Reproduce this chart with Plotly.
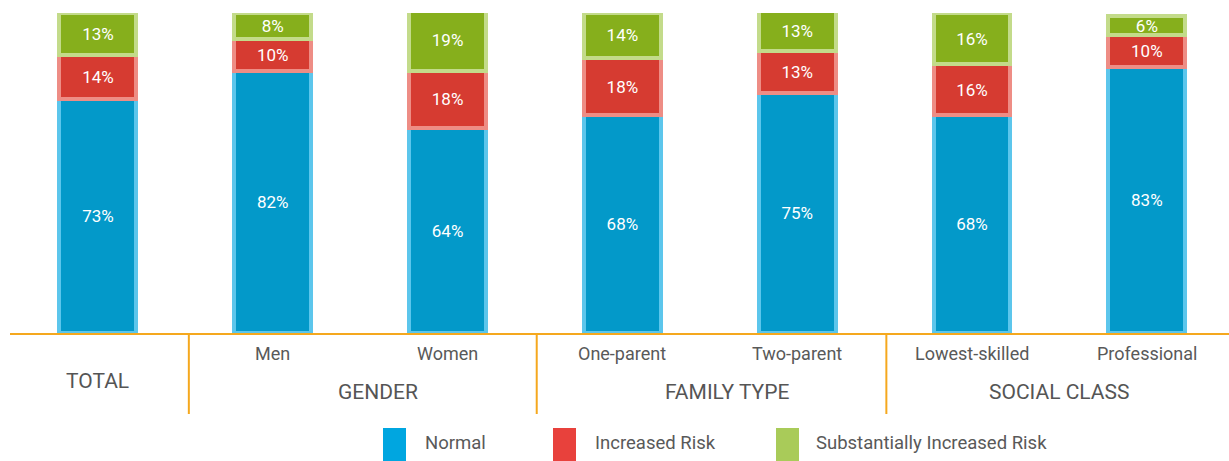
import plotly.graph_objects as go

categories = ["Total", "Men", "Women", "One-parent", "Two-parent", "Lowest-skilled", "Professional"]
tick_labels = ["", "Men", "Women", "One-parent", "Two-parent", "Lowest-skilled", "Professional"]
normal = [73, 82, 64, 68, 75, 68, 83]
increased = [14, 10, 18, 18, 13, 16, 10]
substantial = [13, 8, 19, 14, 13, 16, 6]
series_names = ["Normal", "Increased Risk", "Substantially Increased Risk"]
groups = ["TOTAL", "GENDER", "FAMILY TYPE", "SOCIAL CLASS"]
group_pos = [0, 1.6, 3.6, 5.5]
separators = [0.52, 2.51, 4.51]

fills = ["#0399C9", "#D63B31", "#86AF1C"]
borders = ["#5CC6EC", "#EE8D85", "#C3DB8A"]
legend_cols = ["#00A6E0", "#E8413C", "#A9CB59"]
x = list(range(len(categories)))

fig = go.Figure()
for vals, name, fc, bc in zip([normal, increased, substantial], series_names, fills, borders):
    fig.add_trace(go.Bar(
        x=x, y=vals, name=name,
        marker=dict(color=fc, line=dict(color=bc, width=4)),
        width=0.44,
        text=[f"{v}%" for v in vals],
        textposition="inside", insidetextanchor="middle",
        textfont=dict(color="white", size=17, family="Roboto"),
        constraintext="none",
        showlegend=False,
    ))

W, H = 1229, 461
L, R, T, B = 10, 0, 13, 128
ph = H - T - B

# sub-category labels
for xi, lab in zip(x, tick_labels):
    if lab:
        fig.add_annotation(x=xi, y=-(353 - (H - B)) / ph, xref="x", yref="paper",
                           yanchor="middle", text=lab, showarrow=False,
                           font=dict(size=18, color="#595959", family="Roboto"))
# group labels
for gx, g in zip(group_pos, groups):
    py = 381 if g == "TOTAL" else 392
    fig.add_annotation(x=gx, y=-(py - (H - B)) / ph, xref="x", yref="paper",
                       yanchor="middle", text=g, showarrow=False,
                       font=dict(size=21, color="#555555", family="Roboto"))
# separators
for sx in separators:
    fig.add_shape(type="line", x0=sx, x1=sx, xref="x", yref="paper",
                  y0=0, y1=-(414 - (H - B)) / ph,
                  line=dict(color="#F5A81E", width=2))

# legend
leg_items = [(383, 423), (553, 593), (776, 814)]
for (sx, tx), name, c in zip(leg_items, series_names, legend_cols):
    fig.add_shape(type="rect", xref="paper", yref="paper",
                  x0=(sx - L) / (W - L - R), x1=(sx + 23 - L) / (W - L - R),
                  y0=-(461 - (H - B)) / ph, y1=-(428 - (H - B)) / ph,
                  fillcolor=c, line=dict(width=0))
    fig.add_annotation(x=(tx - L) / (W - L - R), y=-(443 - (H - B)) / ph,
                       xref="paper", yref="paper", xanchor="left", yanchor="middle",
                       text=name, showarrow=False,
                       font=dict(size=18.5, color="#595959", family="Roboto"))

fig.update_layout(
    width=W, height=H,
    margin=dict(l=L, r=R, t=T, b=B),
    barmode="stack",
    plot_bgcolor="white", paper_bgcolor="white",
    font=dict(family="Roboto"),
    xaxis=dict(range=[-0.503, 6.47], showticklabels=False, showgrid=False,
               zeroline=False, showline=True, linecolor="#F5A81E", linewidth=2,
               ticks=""),
    yaxis=dict(range=[0, 100], visible=False),
)

fig.write_html("out.html", config={"displayModeBar": False},
               post_script="document.body.style.margin='0';document.body.style.overflow='hidden';")
